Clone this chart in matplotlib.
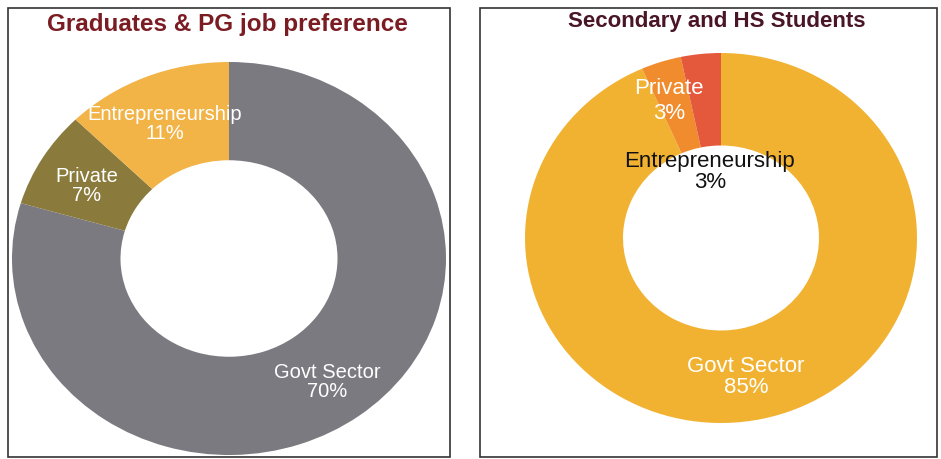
import matplotlib.pyplot as plt
from matplotlib.patches import Rectangle

plt.rcParams['font.family'] = ['Liberation Sans', 'DejaVu Sans']

categories = ['Govt Sector', 'Private', 'Entrepreneurship']
grad_values = [70, 7, 11]
school_values = [85, 3, 3]

grad_colors = ['#7b7a80', '#8a7b3c', '#f2b347']
school_colors = ['#f1b232', '#f08c2e', '#e4583c']

W, H = 941, 459
fig = plt.figure(figsize=(W / 100, H / 100), dpi=100)


def box(x0, y0, x1, y1):
    # pixel box (top-left origin) -> figure fraction
    return [x0 / W, 1 - y1 / H, (x1 - x0) / W, (y1 - y0) / H]


# panel frames
for x0, x1 in [(8, 450), (480, 937)]:
    fig.patches.append(Rectangle((x0 / W, 1 - 457 / H), (x1 - x0) / W, 449 / H,
                                 transform=fig.transFigure, fill=False,
                                 edgecolor='#333333', linewidth=1.2))


def donut(pos, values, colors):
    ax = fig.add_axes(pos)
    ax.pie(values, colors=colors, startangle=90, counterclock=False, radius=1,
           wedgeprops=dict(width=0.5, linewidth=0))
    ax.set_aspect('auto')
    ax.set_xlim(-1, 1)
    ax.set_ylim(-1, 1)
    ax.axis('off')
    return ax


donut(box(12, 62, 446, 455), grad_values, grad_colors)
donut(box(525, 53, 917, 423), school_values, school_colors)

# titles
fig.text(227 / W, 1 - 25 / H, 'Graduates & PG job preference', ha='center', va='center',
         fontsize=17.5, fontweight='bold', color='#7a1c22')
fig.text(717 / W, 1 - 22 / H, 'Secondary and HS Students', ha='center', va='center',
         fontsize=16, fontweight='bold', color='#4a1526')

# slice labels
grad_labels = [f'{c}\n{v}%' for c, v in zip(categories, grad_values)]
school_labels = [f'{c}\n{v}%' for c, v in zip(categories, school_values)]

grad_pos = [(327, 382), (87, 186), (165, 124)]
school_pos = [(746, 377), (669, 101), (710, 172)]
school_text_colors = ['white', 'white', '#111111']
school_spacing = [1.05, 1.2, 0.95]

for (x, y), lab in zip(grad_pos, grad_labels):
    fig.text(x / W, 1 - y / H, lab, ha='center', va='center', fontsize=14.5,
             color='white', linespacing=1.05)
for (x, y), lab, c, ls in zip(school_pos, school_labels, school_text_colors, school_spacing):
    fig.text(x / W, 1 - y / H, lab, ha='center', va='center', fontsize=16,
             color=c, linespacing=ls)

fig.savefig('out.png', dpi=100)
